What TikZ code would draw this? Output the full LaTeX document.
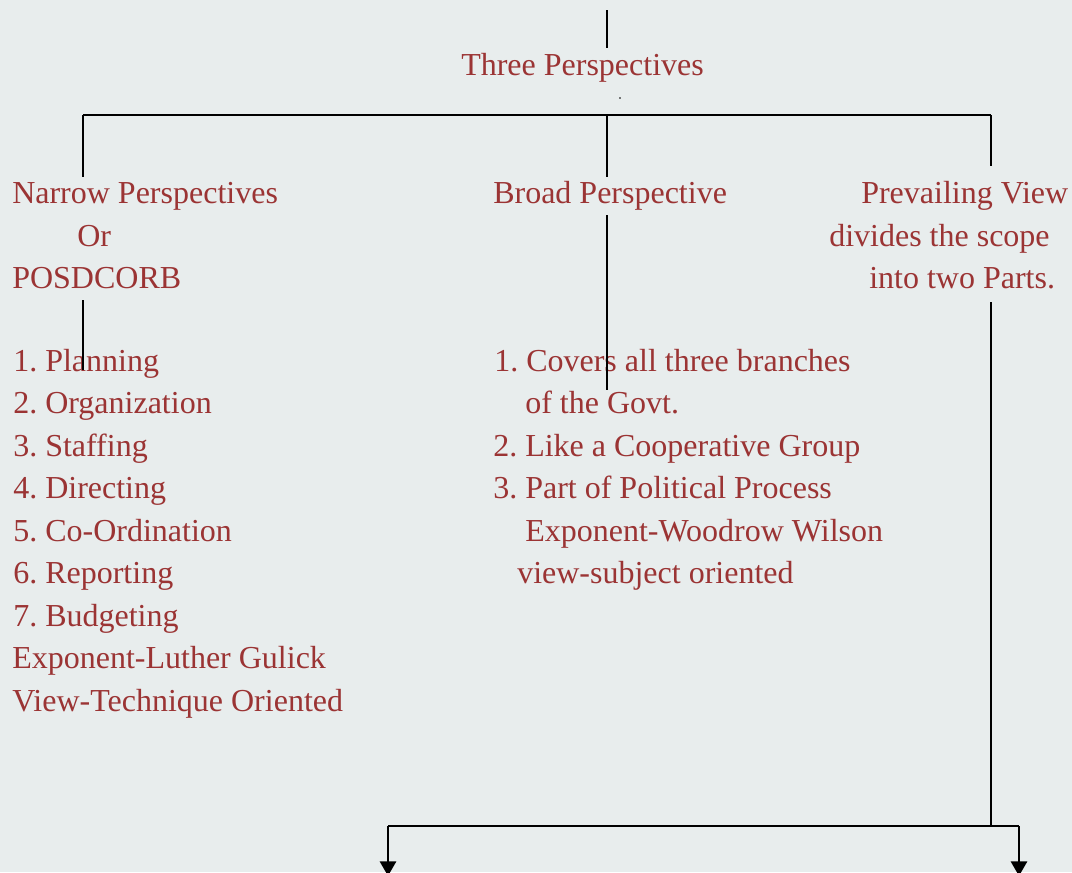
\documentclass[tikz,border=0pt]{standalone}
\usepackage{fontspec}
\setmainfont{Liberation Serif}
\usetikzlibrary{arrows.meta}
\definecolor{bg}{RGB}{232,237,237}
\definecolor{txt}{RGB}{155,52,52}
\frenchspacing
\begin{document}
\begin{tikzpicture}[x=0.75pt,y=-0.75pt,
  lbl/.style={anchor=base west,inner sep=0pt,text=txt,font=\fontsize{24}{29}\selectfont},
  conn/.style={line width=1.7pt,black},
  thick conn/.style={line width=2.2pt,black},
  arr/.style={thick conn,-{Triangle[width=12pt,length=11pt]}}]
\fill[bg] (0,0) rectangle (1072,872);
\useasboundingbox (0,0) rectangle (1072,872);

% title
\node[lbl] (title) at (461,75) {Three Perspectives};

% left column
\node[lbl] (n1) at (12,203) {Narrow Perspectives};
\node[lbl] (n2) at (77,246) {Or};
\node[lbl] (n3) at (12,288) {POSDCORB};
\node[lbl] (l1) at (13,371) {1. Planning};
\node[lbl] (l2) at (13,413) {2. Organization};
\node[lbl] (l3) at (13,456) {3. Staffing};
\node[lbl] (l4) at (13,498) {4. Directing};
\node[lbl] (l5) at (13,541) {5. Co-Ordination};
\node[lbl] (l6) at (13,583) {6. Reporting};
\node[lbl] (l7) at (13,626) {7. Budgeting};
\node[lbl] (l8) at (12,668) {Exponent-Luther Gulick};
\node[lbl] (l9) at (12,711) {View-Technique Oriented};

% middle column
\node[lbl] (b0) at (493,203) {Broad Perspective};
\node[lbl] (b1) at (494,371) {1. Covers all three branches};
\node[lbl] (b1b) at (525,413) {of the Govt.};
\node[lbl] (b2) at (493,456) {2. Like a Cooperative Group};
\node[lbl] (b3) at (493,498) {3. Part of Political Process};
\node[lbl] (b4) at (525,541) {Exponent-Woodrow Wilson};
\node[lbl] (b5) at (517,583) {view-subject oriented};

% right column
\node[lbl] (p1) at (861,203) {Prevailing View};
\node[lbl] (p2) at (829,246) {divides the scope};
\node[lbl] (p3) at (869,288) {into two Parts.};

% coordinates
\coordinate (top) at (607,10);
\coordinate (topE) at (607,48);
\coordinate (hl) at (83,115);
\coordinate (hm) at (607,115);
\coordinate (hr) at (991,115);
\coordinate (lE) at (83,177);
\coordinate (mE) at (607,177);
\coordinate (rE) at (991,166);
\coordinate (l2s) at (83,300);
\coordinate (l2e) at (83,370);
\coordinate (m2s) at (607,215);
\coordinate (m2e) at (607,390);
\coordinate (r2s) at (991,302);
\coordinate (r2e) at (991,826);
\coordinate (bl) at (388,826);
\coordinate (br) at (1019,826);
\coordinate (al) at (388,876);
\coordinate (ar) at (1019,876);

\draw[conn] (top) -- (topE);
\fill (620,98) circle (0.9);
\draw[conn] (hl) -- (hr);
\draw[conn] (hl) -- (lE);
\draw[conn] (hm) -- (mE);
\draw[conn] (hr) -- (rE);
\draw[conn] (l2s) -- (l2e);
\draw[conn] (m2s) -- (m2e);
\draw[conn] (r2s) -- (r2e);
\draw[thick conn] (bl) -- (br);
\draw[arr] (bl) -- (al);
\draw[arr] (br) -- (ar);
\end{tikzpicture}
\end{document}
